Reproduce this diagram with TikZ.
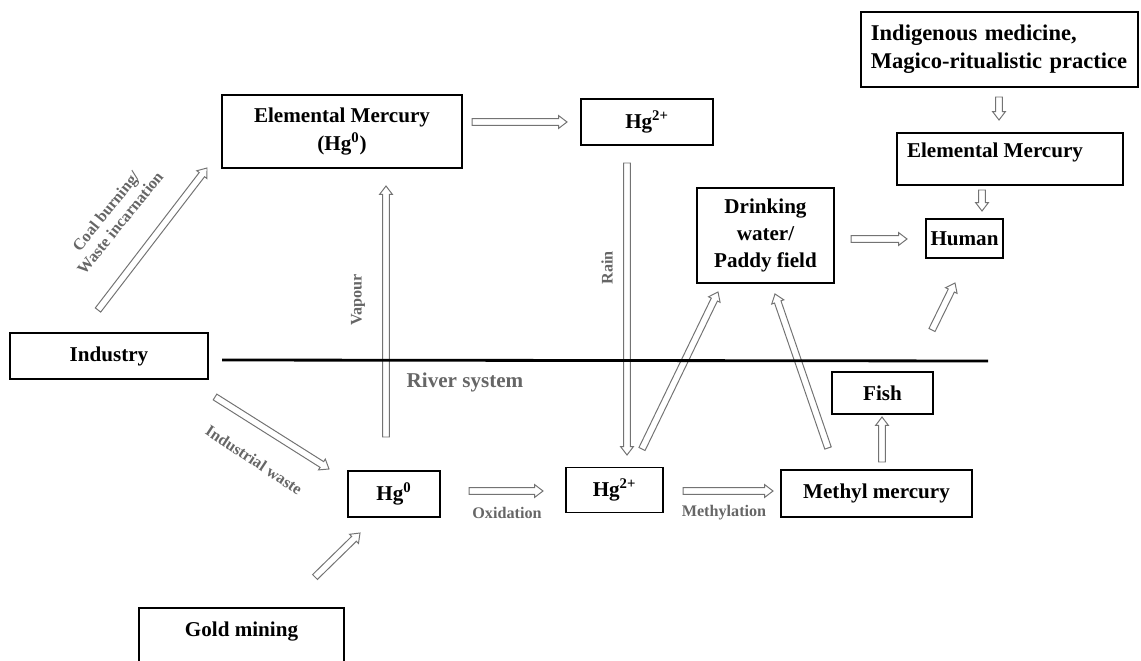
\documentclass[tikz,border=0pt]{standalone}
\usepackage{fontspec}
\setmainfont{Liberation Serif}
\usetikzlibrary{calc}
\tikzset{
  box/.style={draw, line width=0.8pt, inner sep=0pt, align=center, font=\bfseries\fontsize{15}{19.5}\selectfont},
  boxtext/.style={inner sep=0pt, align=center, font=\bfseries\fontsize{15}{19.5}\selectfont},
  flow/.style={draw=black!55, line width=0.7pt, line join=miter},
  tag/.style={text=black!60, inner sep=0pt, align=center, font=\bfseries\fontsize{11.5}{13}\selectfont},
}
% hollow block arrow from one named coordinate to another
\def\hollowarrow(#1)(#2){%
  \coordinate (hc) at ($(#2)!0.21cm!(#1)$);
  \draw[flow] ($(#1)!0.085cm!90:(#2)$) -- ($(hc)!0.085cm!90:(#2)$) -- ($(hc)!0.16cm!90:(#2)$)
    -- (#2) -- ($(hc)!0.16cm!-90:(#2)$) -- ($(hc)!0.085cm!-90:(#2)$) -- ($(#1)!0.085cm!-90:(#2)$) -- cycle;}

\begin{document}
\begin{tikzpicture}[x=0.025cm, y=-0.025cm]
  %%%%% START %%%%%
  \useasboundingbox (0,0) rectangle (1141,661);

  % boxes above the river
  \node[box, minimum width=6cm, minimum height=1.825cm] (elem) at (342,131.5) {Elemental Mercury\\(Hg\textsuperscript{0})};
  \node[box, minimum width=3.3cm, minimum height=1.15cm] (hgtop) at (647,122) {Hg\textsuperscript{2+}};
  \node[box, align=left, text width=6.425cm, inner xsep=0.25cm, minimum height=1.875cm, font=\bfseries\fontsize{16}{20}\selectfont] (indig) at (999.5,49.5) {Indigenous medicine,\\Magico-ritualistic practice};
  \node[box, minimum width=5.65cm, minimum height=1.3cm] (elemR) at (1010,159) {};
  \node[boxtext] (elemRt) at (995,152) {Elemental Mercury};
  \node[box, minimum width=1.925cm, minimum height=0.975cm] (human) at (964.5,238.5) {Human};
  \node[box, minimum width=3.425cm, minimum height=2.375cm] (drink) at (765.5,235.5) {Drinking\\water/\\Paddy field};
  \node[box, minimum width=4.95cm, minimum height=1.15cm] (industry) at (109,356) {Industry};

  % river system
  \coordinate (riverL) at (222,360);
  \coordinate (riverR) at (988,361);
  \node[tag, font=\bfseries\fontsize{15}{17}\selectfont] (river) at (465,382) {River system};

  % boxes below the river
  \node[box, minimum width=2.525cm, minimum height=1.05cm] (fish) at (882.5,393) {Fish};
  \node[box, minimum width=4.775cm, minimum height=1.175cm] (methyl) at (876.5,493.5) {Methyl mercury};
  \node[box, minimum width=2.3cm, minimum height=1.15cm] (hgzero) at (394,494) {Hg\textsuperscript{0}};
  \node[box, minimum width=2.425cm, minimum height=1.125cm] (hgtwo) at (614.5,490) {Hg\textsuperscript{2+}};
  \node[box, minimum width=5.125cm, minimum height=2.3cm] (gold) at (241.5,654) {};
  \node[boxtext] (goldt) at (241.5,632) {Gold mining};

  % arrow ends
  \coordinate (coalA) at (98,310);   \coordinate (coalB) at (207,168);
  \coordinate (vapA) at (386,437);   \coordinate (vapB) at (386,186);
  \coordinate (topA) at (472,122);   \coordinate (topB) at (567,122);
  \coordinate (rainA) at (627,163);  \coordinate (rainB) at (627,455);
  \coordinate (hdA) at (642,449);    \coordinate (hdB) at (718,292);
  \coordinate (mdA) at (828,448);    \coordinate (mdB) at (775,294);
  \coordinate (mfA) at (882,462);    \coordinate (mfB) at (882,417);
  \coordinate (rhA) at (932,330);    \coordinate (rhB) at (955,283);
  \coordinate (dhA) at (851,239);    \coordinate (dhB) at (907,239);
  \coordinate (ieA) at (999,97);     \coordinate (ieB) at (999,120);
  \coordinate (ehA) at (982,190);    \coordinate (ehB) at (982,211);
  \coordinate (iwA) at (215,397);    \coordinate (iwB) at (329,469);
  \coordinate (gmA) at (315,577);    \coordinate (gmB) at (360,533);
  \coordinate (oxA) at (469,491);    \coordinate (oxB) at (543,491);
  \coordinate (meA) at (683,491);    \coordinate (meB) at (773,491);

  \hollowarrow(coalA)(coalB)
  \hollowarrow(vapA)(vapB)
  \hollowarrow(topA)(topB)
  \hollowarrow(rainA)(rainB)
  \hollowarrow(hdA)(hdB)
  \hollowarrow(mdA)(mdB)
  \hollowarrow(mfA)(mfB)
  \hollowarrow(rhA)(rhB)
  \hollowarrow(dhA)(dhB)
  \hollowarrow(ieA)(ieB)
  \hollowarrow(ehA)(ehB)
  \hollowarrow(iwA)(iwB)
  \hollowarrow(gmA)(gmB)
  \hollowarrow(oxA)(oxB)
  \hollowarrow(meA)(meB)

  \draw[line width=2pt] (riverL) -- (riverR);

  % arrow labels
  \node[tag, rotate=51] (coal) at (113,217) {Coal burning/\\Waste incarnation};
  \node[tag, rotate=90] (vapour) at (358,300) {Vapour};
  \node[tag, rotate=90] (rain) at (607,268) {Rain};
  \node[tag, rotate=-33.5] (waste) at (254,460) {Industrial waste};
  \node[tag] (oxid) at (507,513) {Oxidation};
  \node[tag] (methyla) at (724,513) {Methylation};
  %%%%% END %%%%%
\end{tikzpicture}
\end{document}
